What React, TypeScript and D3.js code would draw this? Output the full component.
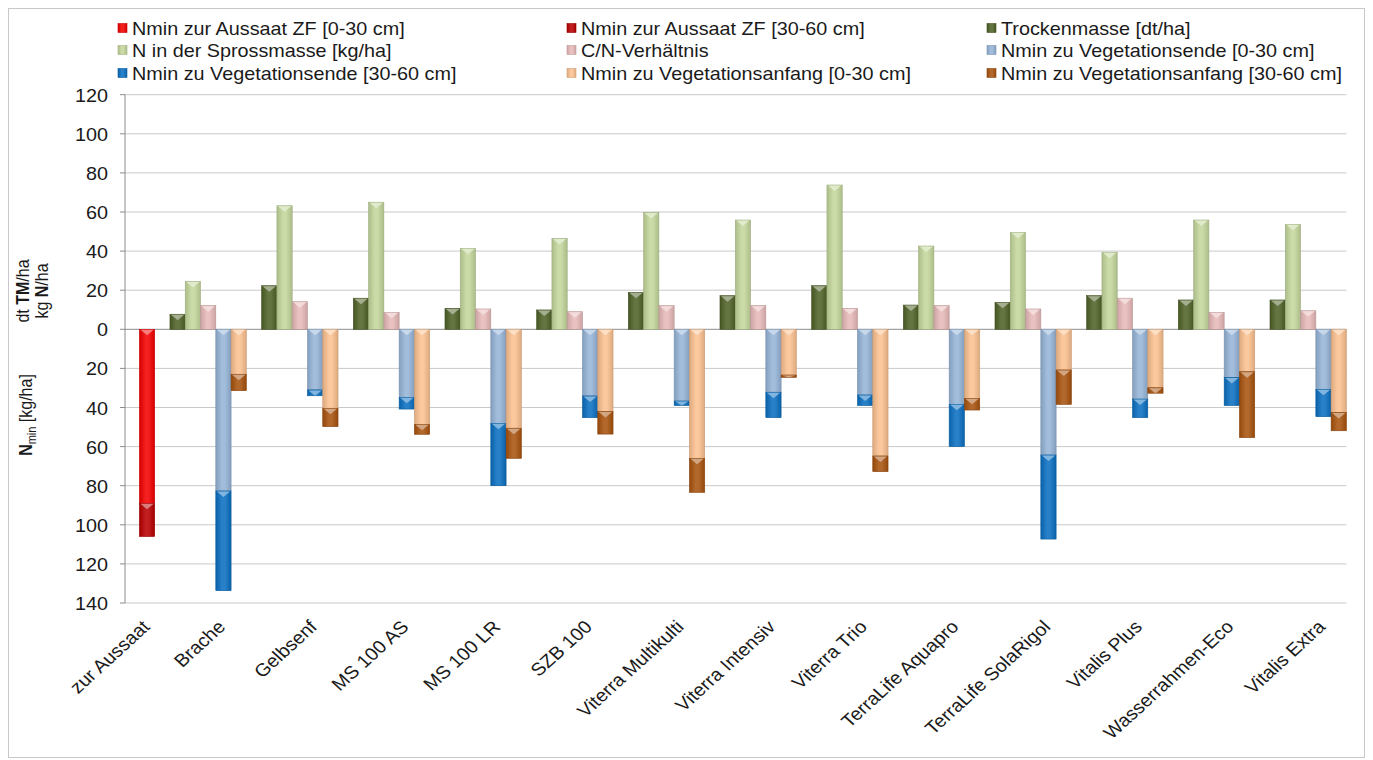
import React from "react";
import * as d3 from "d3";

const categories = [
  "zur Aussaat", "Brache", "Gelbsenf", "MS 100 AS", "MS 100 LR", "SZB 100",
  "Viterra Multikulti", "Viterra Intensiv", "Viterra Trio", "TerraLife Aquapro",
  "TerraLife SolaRigol", "Vitalis Plus", "Wasserrahmen-Eco", "Vitalis Extra",
];

const nminAussaat0_30 = [89, null, null, null, null, null, null, null, null, null, null, null, null, null];
const nminAussaat30_60 = [17, null, null, null, null, null, null, null, null, null, null, null, null, null];
const trockenmasse = [null, 7.7, 22.3, 15.9, 10.7, 9.9, 18.9, 17.2, 22.3, 12.4, 13.8, 17.2, 15, 15];
const nSpross = [null, 24.4, 63.2, 65, 41.4, 46.5, 59.8, 55.9, 73.8, 42.6, 49.6, 39.4, 55.9, 53.7];
const cnVerh = [null, 12.1, 14.1, 8.7, 10.4, 9.0, 12.1, 12.1, 10.7, 12.1, 10.4, 15.9, 8.7, 9.5];
const vegEnde0_30 = [null, 82.7, 31, 34.8, 48.1, 34.1, 36.7, 32.2, 33.6, 38.4, 64.3, 35.7, 24.6, 30.7];
const vegEnde30_60 = [null, 51, 3, 6, 31.9, 11.1, 2.3, 13, 5.4, 21.6, 43, 9.5, 14.4, 14];
const vegAnf0_30 = [null, 23, 40.4, 48.6, 50.6, 42.1, 66, 23.4, 64.8, 35.3, 20.8, 29.9, 21.7, 42.5];
const vegAnf30_60 = [null, 8.4, 9.4, 5.1, 15.4, 11.5, 17.4, 1.2, 8, 6, 17.6, 2.8, 33.7, 9.4];

const yTicks = [120, 100, 80, 60, 40, 20, 0, -20, -40, -60, -80, -100, -120, -140];

const legendLabels = [
  "Nmin zur Aussaat ZF [0-30 cm]", "Nmin zur Aussaat ZF [30-60 cm]", "Trockenmasse [dt/ha]",
  "N in der Sprossmasse [kg/ha]", "C/N-Verhältnis", "Nmin zu Vegetationsende [0-30 cm]",
  "Nmin zu Vegetationsende [30-60 cm]", "Nmin zu Vegetationsanfang [0-30 cm]", "Nmin zu Vegetationsanfang [30-60 cm]",
];
const colors = [
  "#f20000", "#b80000", "#4f6228",
  "#c3d69b", "#e6b9b8", "#95b3d7",
  "#0a6fc0", "#fac090", "#a8520e",
];

const FONT = "'Liberation Sans', Arial, sans-serif";
const SX = 1.1;

export default function App() {
  const W = 1373, H = 760;
  const plotL = 125, plotR = 1346.4, yTop = 94.7, yBot = 603;
  const bandW = 91.67;
  const y = d3.scaleLinear().domain([-140, 120]).range([yBot, yTop]);
  const x = d3.scaleBand<string>().domain(categories).range([plotR - categories.length * bandW, plotR]).padding(0);
  const slot = x.bandwidth() / 6;

  type Seg = { i: number; s: number; v0: number; v1: number; c: number };
  const segs: Seg[] = [];
  categories.forEach((cat, i) => {
    if (nminAussaat0_30[i] != null) {
      const a = nminAussaat0_30[i] as number;
      segs.push({ i, s: 5, v0: 0, v1: -a, c: 0 });
      const b = nminAussaat30_60[i] as number;
      segs.push({ i, s: 5, v0: -a, v1: -(a + b), c: 1 });
    }
    if (trockenmasse[i] != null) segs.push({ i, s: 1, v0: 0, v1: trockenmasse[i] as number, c: 2 });
    if (nSpross[i] != null) segs.push({ i, s: 2, v0: 0, v1: nSpross[i] as number, c: 3 });
    if (cnVerh[i] != null) segs.push({ i, s: 3, v0: 0, v1: cnVerh[i] as number, c: 4 });
    if (vegEnde0_30[i] != null) {
      const a = vegEnde0_30[i] as number;
      const b = vegEnde30_60[i] as number;
      segs.push({ i, s: 4, v0: 0, v1: -a, c: 5 });
      segs.push({ i, s: 4, v0: -a, v1: -(a + b), c: 6 });
    }
    if (vegAnf0_30[i] != null) {
      const a = vegAnf0_30[i] as number;
      const b = vegAnf30_60[i] as number;
      segs.push({ i, s: 5, v0: 0, v1: -a, c: 7 });
      segs.push({ i, s: 5, v0: -a, v1: -(a + b), c: 8 });
    }
  });

  const dark = (c: string, k: number) => d3.color(c)!.darker(k).formatHex();
  const light = (c: string, k: number) => {
    const a = d3.rgb(c);
    const m = (v: number) => Math.round(v + (255 - v) * k);
    return d3.rgb(m(a.r), m(a.g), m(a.b)).formatHex();
  };

  const legendCols = [118, 567, 987];
  const legendRows = [28, 50, 73];

  return (
    <svg width={W} height={H} style={{ position: "absolute", left: 0, top: 0, background: "#fff" }} fontFamily={FONT}>
      <defs>
        {colors.map((c, k) => (
          <linearGradient key={k} id={`g${k}`} x1="0" x2="1" y1="0" y2="0">
            <stop offset="0%" stopColor={dark(c, 0.35)} />
            <stop offset="40%" stopColor={light(c, 0.12)} />
            <stop offset="60%" stopColor={light(c, 0.12)} />
            <stop offset="100%" stopColor={dark(c, 0.35)} />
          </linearGradient>
        ))}
      </defs>
      <rect x={8.5} y={8.5} width={1356} height={749} fill="#fff" stroke="#c8c8c8" strokeWidth={1} />

      {/* gridlines */}
      {yTicks.map((t) => (
        <line key={t} x1={plotL} x2={plotR} y1={y(t)} y2={y(t)} stroke={t === 0 ? "#8c8c8c" : "#c9c9c9"} strokeWidth={1} />
      ))}
      {/* y axis */}
      <line x1={plotL} x2={plotL} y1={yTop} y2={yBot} stroke="#8c8c8c" />
      {yTicks.map((t) => (
        <g key={"t" + t}>
          <line x1={plotL - 5} x2={plotL} y1={y(t)} y2={y(t)} stroke="#8c8c8c" />
          <text transform={`translate(${plotL - 17},${y(t) + 7}) scale(${SX},1)`} textAnchor="end" fontSize={18} fill="#1a1a1a">
            {Math.abs(t)}
          </text>
        </g>
      ))}

      {/* bars */}
      {segs.map((sg, k) => {
        const x0 = (x(categories[sg.i]) as number) + sg.s * slot;
        const top = Math.min(y(sg.v0), y(sg.v1));
        const h = Math.abs(y(sg.v0) - y(sg.v1));
        const col = colors[sg.c];
        const ch = Math.min(6, h);
        return (
          <g key={k}>
            <rect x={x0} y={top} width={slot} height={h} fill={`url(#g${sg.c})`} stroke={dark(col, 0.6)} strokeWidth={0.6} />
            <path
              d={`M${x0 + 1},${top + 0.5} L${x0 + slot - 1},${top + 0.5} L${x0 + slot / 2},${top + ch} Z`}
              fill={light(col, 0.55)}
              opacity={0.85}
            />
          </g>
        );
      })}

      {/* x labels */}
      {categories.map((c) => {
        const cx = Math.max((x(c) as number) + x.bandwidth() / 2, plotL) + 26;
        return (
          <text key={c} transform={`translate(${cx},628) scale(${SX},1) rotate(-45)`} textAnchor="end" fontSize={18} fill="#1a1a1a">
            {c}
          </text>
        );
      })}

      {/* y titles */}
      <text transform={`translate(29,291) scale(${SX},1) rotate(-90)`} textAnchor="middle" fontSize={16} fill="#1a1a1a">
        dt <tspan fontWeight="bold">TM</tspan>/ha
      </text>
      <text transform={`translate(48,291) scale(${SX},1) rotate(-90)`} textAnchor="middle" fontSize={16} fill="#1a1a1a">
        kg <tspan fontWeight="bold">N</tspan>/ha
      </text>
      <text transform={`translate(32,415) scale(${SX},1) rotate(-90)`} textAnchor="middle" fontSize={16} fill="#1a1a1a">
        <tspan fontWeight="bold">N</tspan>
        <tspan fontSize={11} dy={4}>min</tspan>
        <tspan dy={-4}> [kg/ha]</tspan>
      </text>

      {/* legend */}
      {legendLabels.map((l, k) => {
        const cx = legendCols[k % 3];
        const cy = legendRows[Math.floor(k / 3)];
        return (
          <g key={l}>
            <rect x={cx} y={cy - 4.5} width={9} height={9} fill={`url(#g${k})`} stroke={dark(colors[k], 0.5)} strokeWidth={0.6} />
            <text transform={`translate(${cx + 14},${cy + 6.5}) scale(${SX},1)`} fontSize={18} fill="#1a1a1a">
              {l}
            </text>
          </g>
        );
      })}
    </svg>
  );
}
